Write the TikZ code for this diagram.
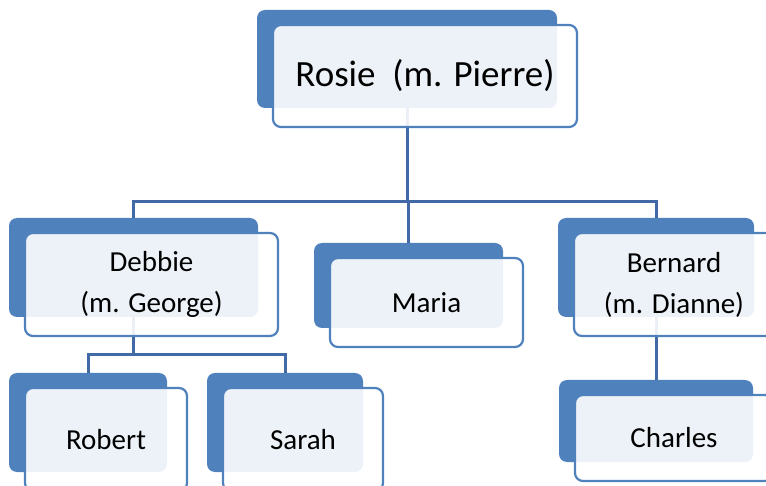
\documentclass[tikz,border=0pt]{standalone}
\usepackage{fontspec}
\setmainfont{Carlito}

\definecolor{boxblue}{HTML}{4F81BD}
\definecolor{linkblue}{HTML}{4169A5}

\tikzset{
  boxsize/.style 2 args={minimum width=#1pt, minimum height=#2pt},
  backbox/.style={fill=boxblue, rounded corners=8pt, inner sep=0pt},
  frontbox/.style={draw=boxblue, line width=2.2pt, fill=white, fill opacity=0.9,
    text opacity=1, rounded corners=8pt, inner sep=0pt, align=center,
    font=\fontsize{29}{41}\selectfont},
  link/.style={draw=linkblue, line width=3pt},
}

\begin{document}
\begin{tikzpicture}[x=1pt,y=-1pt]
   \path[use as bounding box, clip] (0,0) rectangle (766,486);
   % back boxes
   \node[backbox, boxsize={300}{98}] (rosie)   at (407,59)    {};
   \node[backbox, boxsize={249}{99}] (debbie)  at (133.5,267.5) {};
   \node[backbox, boxsize={189}{85}] (maria)   at (408.5,285.5) {};
   \node[backbox, boxsize={196}{99}] (bernard) at (656,267.5) {};
   \node[backbox, boxsize={158}{99}] (robert)  at (88,422.5)  {};
   \node[backbox, boxsize={156}{99}] (sarah)   at (285,422.5) {};
   \node[backbox, boxsize={194}{82}] (charles) at (656,421)   {};
   % connectors
   \coordinate (top-bus) at (0,202);
   \coordinate (low-bus) at (0,355);
   \draw[link] (rosie.south) -- (rosie.south |- top-bus);
   \draw[link] (debbie.north) |- (top-bus -| bernard.north) -- (bernard.north);
   \draw[link] (top-bus -| maria.north) -- (maria.north);
   \draw[link] (debbie.south) -- (debbie.south |- low-bus);
   \draw[link] (robert.north) |- (low-bus -| sarah.north) -- (sarah.north);
   \draw[link] (bernard.south) -- (charles.north);
   % front boxes
   \node[frontbox, boxsize={304}{102}, font=\fontsize{37}{44}\selectfont]
      (rosie-f) at ([shift={(18,17)}]rosie.center) {Rosie\ \ (m. Pierre)};
   \node[frontbox, boxsize={253}{103}] (debbie-f)  at ([shift={(18,17)}]debbie.center)  {Debbie\\(m. George)};
   \node[frontbox, boxsize={193}{89}]  (maria-f)   at ([shift={(18,17)}]maria.center)   {Maria};
   \node[frontbox, boxsize={200}{103}] (bernard-f) at ([shift={(18,17)}]bernard.center) {Bernard\\(m. Dianne)};
   \node[frontbox, boxsize={162}{103}] (robert-f)  at ([shift={(18,17)}]robert.center)  {Robert};
   \node[frontbox, boxsize={160}{103}] (sarah-f)   at ([shift={(18,17)}]sarah.center)   {Sarah};
   \node[frontbox, boxsize={198}{86}]  (charles-f) at ([shift={(18,17)}]charles.center) {Charles};
\end{tikzpicture}
\end{document}
